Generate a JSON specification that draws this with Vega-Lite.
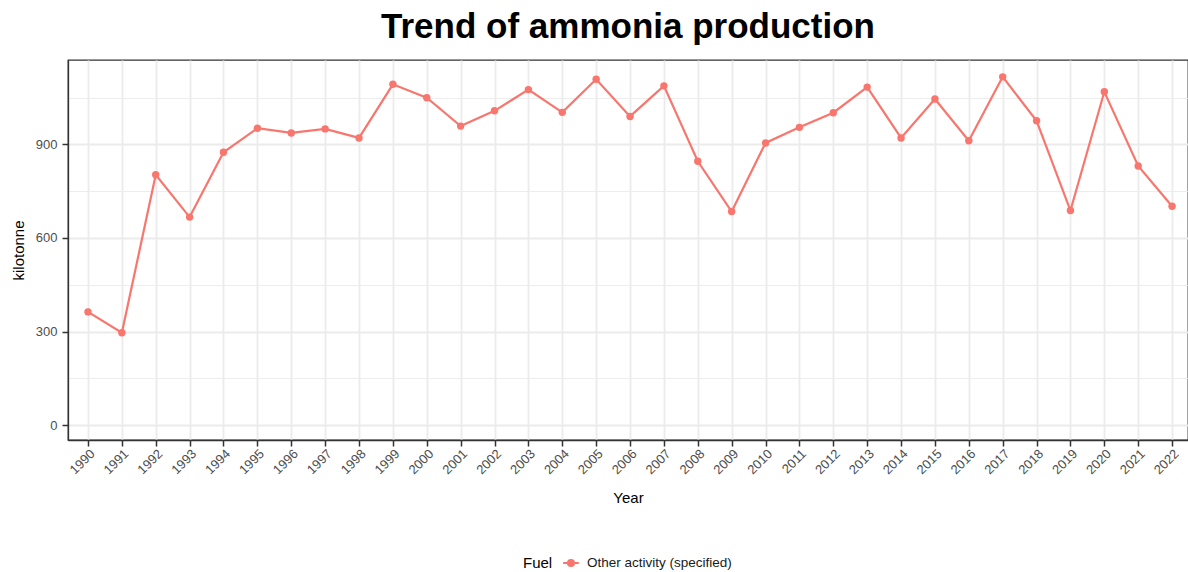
{
  "$schema": "https://vega.github.io/schema/vega-lite/v6.json",
  "autosize": "none",
  "width": 1120,
  "height": 380,
  "padding": {"left": 68, "top": 60, "right": 0, "bottom": 132},
  "background": "white",
  "title": {"text": "Trend of ammonia production", "font": "Liberation Sans", "fontSize": 35, "fontWeight": "bold", "color": "#000000", "anchor": "middle", "offset": 15},
  "config": {
    "font": "Liberation Sans",
    "view": {"stroke": "#333333", "strokeWidth": 1.3},
    "axis": {"labelFont": "Liberation Sans", "titleFont": "Liberation Sans", "labelColor": "#4D4D4D", "labelFontSize": 13, "titleFontSize": 15, "titleFontWeight": "normal", "titleColor": "#000000", "domainColor": "#333333", "tickColor": "#333333", "tickSize": 6, "tickWidth": 1.5, "domainWidth": 1.3, "gridColor": "#EBEBEB", "gridWidth": 1.8}
  },
  "data": {"values": [
    {"Year": 1990, "value": 363, "Fuel": "Other activity (specified)"},
    {"Year": 1991, "value": 296, "Fuel": "Other activity (specified)"},
    {"Year": 1992, "value": 803, "Fuel": "Other activity (specified)"},
    {"Year": 1993, "value": 667, "Fuel": "Other activity (specified)"},
    {"Year": 1994, "value": 875, "Fuel": "Other activity (specified)"},
    {"Year": 1995, "value": 952, "Fuel": "Other activity (specified)"},
    {"Year": 1996, "value": 937, "Fuel": "Other activity (specified)"},
    {"Year": 1997, "value": 950, "Fuel": "Other activity (specified)"},
    {"Year": 1998, "value": 921, "Fuel": "Other activity (specified)"},
    {"Year": 1999, "value": 1093, "Fuel": "Other activity (specified)"},
    {"Year": 2000, "value": 1050, "Fuel": "Other activity (specified)"},
    {"Year": 2001, "value": 959, "Fuel": "Other activity (specified)"},
    {"Year": 2002, "value": 1008, "Fuel": "Other activity (specified)"},
    {"Year": 2003, "value": 1076, "Fuel": "Other activity (specified)"},
    {"Year": 2004, "value": 1003, "Fuel": "Other activity (specified)"},
    {"Year": 2005, "value": 1109, "Fuel": "Other activity (specified)"},
    {"Year": 2006, "value": 990, "Fuel": "Other activity (specified)"},
    {"Year": 2007, "value": 1088, "Fuel": "Other activity (specified)"},
    {"Year": 2008, "value": 846, "Fuel": "Other activity (specified)"},
    {"Year": 2009, "value": 685, "Fuel": "Other activity (specified)"},
    {"Year": 2010, "value": 905, "Fuel": "Other activity (specified)"},
    {"Year": 2011, "value": 955, "Fuel": "Other activity (specified)"},
    {"Year": 2012, "value": 1002, "Fuel": "Other activity (specified)"},
    {"Year": 2013, "value": 1084, "Fuel": "Other activity (specified)"},
    {"Year": 2014, "value": 921, "Fuel": "Other activity (specified)"},
    {"Year": 2015, "value": 1046, "Fuel": "Other activity (specified)"},
    {"Year": 2016, "value": 912, "Fuel": "Other activity (specified)"},
    {"Year": 2017, "value": 1117, "Fuel": "Other activity (specified)"},
    {"Year": 2018, "value": 976, "Fuel": "Other activity (specified)"},
    {"Year": 2019, "value": 688, "Fuel": "Other activity (specified)"},
    {"Year": 2020, "value": 1069, "Fuel": "Other activity (specified)"},
    {"Year": 2021, "value": 831, "Fuel": "Other activity (specified)"},
    {"Year": 2022, "value": 702, "Fuel": "Other activity (specified)"}
  ]},
  "resolve": {"axis": {"y": "independent"}},
  "layer": [
    {
      "mark": {"type": "rule", "opacity": 0},
      "encoding": {
        "y": {"field": "value", "type": "quantitative", "scale": {"domain": [-48, 1171], "nice": false, "zero": false},
          "axis": {"orient": "right", "values": [150, 450, 750, 1050], "grid": true, "gridWidth": 0.9, "labels": false, "ticks": false, "domain": false, "title": null}}
      }
    },
    {
      "mark": {"type": "line", "color": "#F8766D", "strokeWidth": 2.2, "point": {"filled": true, "size": 55, "color": "#F8766D", "opacity": 1}},
      "encoding": {
        "x": {"field": "Year", "type": "quantitative", "scale": {"domain": [1989.41, 2022.47], "nice": false, "zero": false},
          "axis": {"title": "Year", "values": [1990, 1991, 1992, 1993, 1994, 1995, 1996, 1997, 1998, 1999, 2000, 2001, 2002, 2003, 2004, 2005, 2006, 2007, 2008, 2009, 2010, 2011, 2012, 2013, 2014, 2015, 2016, 2017, 2018, 2019, 2020, 2021, 2022], "format": "d", "labelAngle": -45, "labelAlign": "right", "labelBaseline": "top", "labelPadding": 1, "labelFlush": false, "labelOverlap": false, "grid": true, "titleX": 560, "titleY": 62, "titleBaseline": "alphabetic", "titleAlign": "center"}},
        "y": {"field": "value", "type": "quantitative", "scale": {"domain": [-48, 1171], "nice": false, "zero": false},
          "axis": {"orient": "left", "title": "kilotonne", "values": [0, 300, 600, 900], "grid": true, "labelPadding": 5, "titleX": -50, "titleY": 190, "titleAngle": -90, "titleBaseline": "middle", "titleAlign": "center"}},
        "color": {"field": "Fuel", "type": "nominal", "scale": {"range": ["#F8766D"]},
          "legend": {"orient": "none", "legendX": 455, "legendY": 495, "direction": "horizontal", "titleOrient": "left", "title": "Fuel", "titleFontSize": 15, "titleFontWeight": "normal", "titleColor": "#000000", "titleFont": "Liberation Sans", "labelFont": "Liberation Sans", "labelFontSize": 13.5, "labelColor": "#1A1A1A", "titlePadding": 10, "labelOffset": 8,
            "symbolType": "M-1.2,0L1.2,0M-0.45,0a0.45,0.45 0 1,0 0.9,0a0.45,0.45 0 1,0 -0.9,0", "symbolSize": 170, "symbolStrokeWidth": 2.2, "symbolFillColor": "#F8766D", "symbolStrokeColor": "#F8766D"}}
      }
    }
  ]
}
